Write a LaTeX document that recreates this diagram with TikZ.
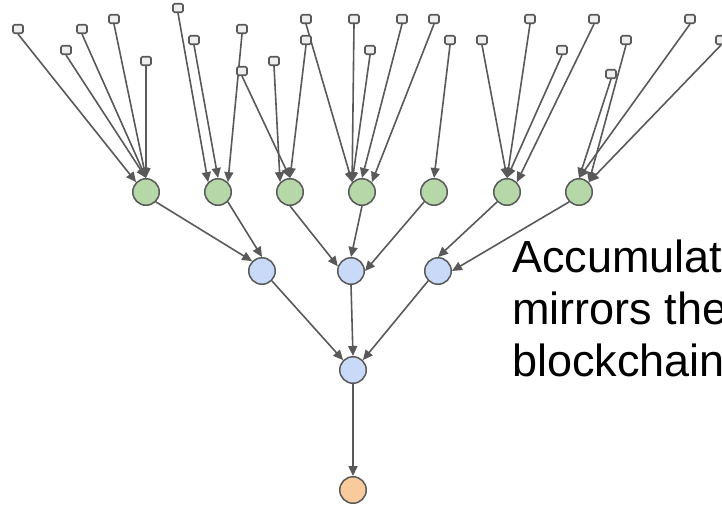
\documentclass[tikz,border=0pt]{standalone}
\usepackage{fontspec}
\setmainfont{Liberation Sans}
\usetikzlibrary{arrows.meta}

\definecolor{ink}{HTML}{595959}
\definecolor{leafgray}{HTML}{EEEEEE}
\definecolor{leafgreen}{HTML}{B6D7A8}
\definecolor{midblue}{HTML}{C9DAF8}
\definecolor{rootorange}{HTML}{F9CB9C}

\pgfdeclarelayer{edges}
\pgfsetlayers{edges,main}

\begin{document}
\begin{tikzpicture}[x=1pt,y=-1pt,
  leaf/.style={draw=ink, fill=leafgray, line width=1.6pt, rounded corners=1.5pt,
    minimum width=10pt, minimum height=8.5pt, inner sep=0pt},
  hashnode/.style={circle, draw=ink, line width=1.5pt, minimum size=26.5pt, inner sep=0pt},
  lvlone/.style={hashnode, fill=leafgreen},
  lvltwo/.style={hashnode, fill=midblue},
  topnode/.style={hashnode, fill=rootorange},
  link/.style={draw=ink, line width=1.6pt, -{Triangle[length=10pt,width=9pt]}},
  caption/.style={anchor=base west, inner sep=0pt, font=\fontsize{45}{52}\selectfont}
]
\useasboundingbox (0,0) rectangle (722,506);
\clip (0,0) rectangle (722,506);

% leaves
\node[leaf] (s1)  at (18,29) {};
\node[leaf] (s2)  at (66,50) {};
\node[leaf] (s3)  at (82,29) {};
\node[leaf] (s4)  at (114,19) {};
\node[leaf] (s5)  at (146,61) {};
\node[leaf] (s6)  at (178,8) {};
\node[leaf] (s7)  at (194,40) {};
\node[leaf] (s8)  at (242,29) {};
\node[leaf] (s9)  at (242,71) {};
\node[leaf] (s10) at (274,61) {};
\node[leaf] (s11) at (306,19) {};
\node[leaf] (s12) at (306,40) {};
\node[leaf] (s13) at (354,19) {};
\node[leaf] (s14) at (370,50) {};
\node[leaf] (s15) at (402,19) {};
\node[leaf] (s16) at (434,19) {};
\node[leaf] (s17) at (450,40) {};
\node[leaf] (s18) at (482,40) {};
\node[leaf] (s19) at (530,19) {};
\node[leaf] (s20) at (562,50) {};
\node[leaf] (s21) at (594,19) {};
\node[leaf] (s22) at (626,40) {};
\node[leaf] (s23) at (611,74) {};
\node[leaf] (s24) at (690,19) {};
\node[leaf] (s25) at (721,40) {};

% first level
\node[lvlone] (g1) at (146,192) {};
\node[lvlone] (g2) at (218,192) {};
\node[lvlone] (g3) at (290,192) {};
\node[lvlone] (g4) at (362,192) {};
\node[lvlone] (g5) at (434,192) {};
\node[lvlone] (g6) at (507,192) {};
\node[lvlone] (g7) at (579,192) {};

% second level
\node[lvltwo] (b1) at (262,271) {};
\node[lvltwo] (b2) at (351,271) {};
\node[lvltwo] (b3) at (438,271) {};

% root and output
\node[lvltwo]  (r) at (353,370) {};
\node[topnode] (o) at (353,490) {};

\begin{pgfonlayer}{edges}
  \draw[link] (s1.south) -- (g1.north west);
  \draw[link] (s2.south) -- (g1.north);
  \draw[link] (s3.south) -- (g1.north);
  \draw[link] (s4.south) -- (g1.north);
  \draw[link] (s5.south) -- (g1.north);

  \draw[link] (s6.south) -- (g2.north west);
  \draw[link] (s7.south) -- (g2.north);
  \draw[link] (s8.south) -- (g2.north east);

  \draw[link] (s10.south) -- (g3.north west);
  \draw[link] (s9.south) -- (g3.north);
  \draw[link] (s12.south) -- (g3.north);

  \draw[link] (s11.south) -- (g4.north west);
  \draw[link] (s13.south) -- (g4.north west);
  \draw[link] (s14.south) -- (g4.north west);
  \draw[link] (s15.south) -- (g4.north);
  \draw[link] (s16.south) -- (g4.north east);

  \draw[link] (s17.south) -- (g5.north);

  \draw[link] (s18.south) -- (g6.north);
  \draw[link] (s19.south) -- (g6.north);
  \draw[link] (s20.south) -- (g6.north);
  \draw[link] (s21.south) -- (g6.north east);

  \draw[link] (s23.south) -- (g7.north);
  \draw[link] (s24.south) -- (g7.north);
  \draw[link] (s22.south) -- (g7.north east);
  \draw[link] (s25.south) -- (g7.north east);

  \draw[link] (g1.south east) -- (b1.north west);
  \draw[link] (g2.south east) -- (b1.north);
  \draw[link] (g3.south) -- (b2.160);
  \draw[link] (g4.south) -- (b2.north);
  \draw[link] (g5.south west) -- (b2.east);
  \draw[link] (g6.south west) -- (b3.north);
  \draw[link] (g7.south west) -- (b3.east);

  \draw[link] (b1.south east) -- (r.north west);
  \draw[link] (b2.south) -- (r.north);
  \draw[link] (b3.south west) -- (r.north east);

  \draw[link] (r.south) -- (o.north);
\end{pgfonlayer}

% caption, running past the right edge
\node[caption] (t1) at (512,272) {Accumulat};
\node[caption] (t2) at (512,324) {mirrors the};
\node[caption] (t3) at (512,376) {blockchain};
\end{tikzpicture}
\end{document}
